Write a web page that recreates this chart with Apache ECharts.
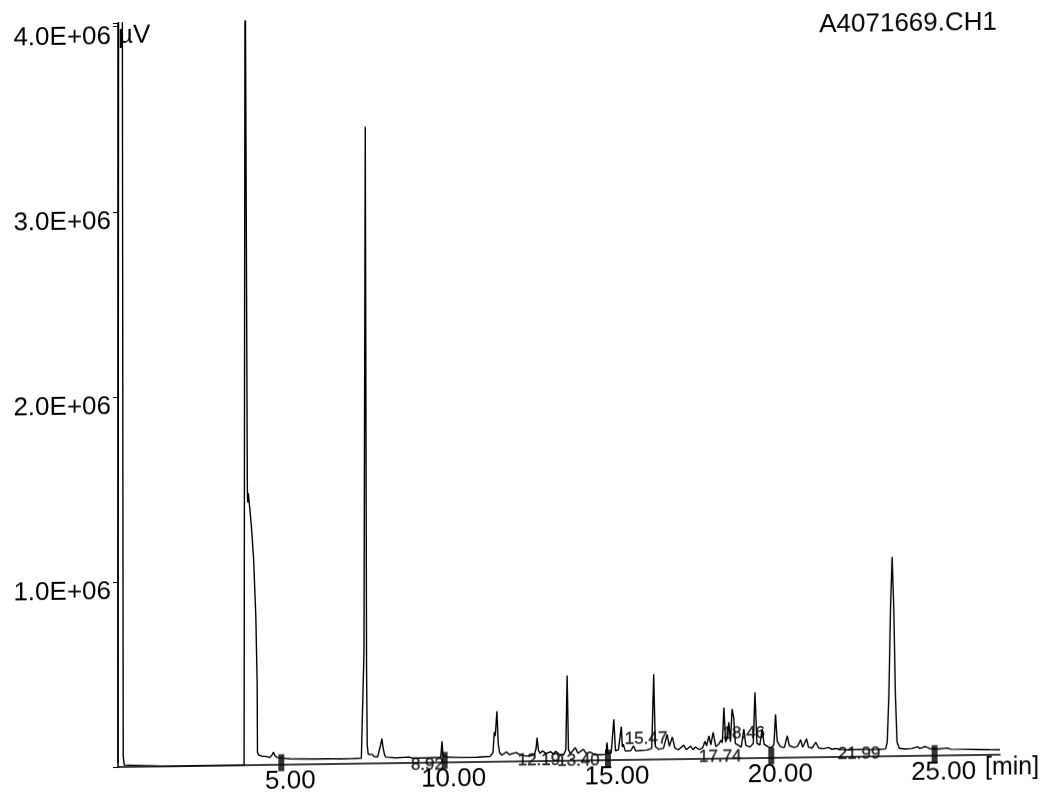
<!DOCTYPE html>
<html><head><meta charset="utf-8">
<script src="https://cdn.jsdelivr.net/npm/echarts@6/dist/echarts.min.js"></script>
<style>
html,body{margin:0;padding:0;background:#fff;}
#chart{width:1044px;height:792px;transform:skewY(-0.8deg);transform-origin:118px 0;}
</style>
</head><body><div id="chart"></div>
<script>
// ---------- data ----------
const retentionTimes = [
  0.00,0.02,0.13,0.16,0.19,0.25,1.50,3.00,3.86,3.89,
  3.94,3.96,3.97,3.99,4.02,4.08,4.15,4.22,4.26,4.27,
  4.30,4.40,4.55,4.65,4.72,4.76,4.80,4.87,5.00,5.28,
  5.60,6.00,6.40,6.80,7.20,7.45,7.50,7.53,7.57,7.61,
  7.63,7.66,7.72,7.78,7.85,7.95,8.00,8.04,8.08,8.11,
  8.13,8.16,8.20,8.50,8.92,9.00,9.50,9.88,9.92,9.95,
  10.10,10.50,11.00,11.40,11.48,11.52,11.55,11.60,11.64,11.68,
  11.75,11.90,11.98,12.19,12.28,12.45,12.60,12.75,12.80,12.83,
  12.87,12.92,13.00,13.10,13.25,13.32,13.40,13.50,13.65,13.71,
  13.75,13.79,13.85,14.00,14.08,14.25,14.33,14.45,14.60,14.80,
  14.94,14.97,15.00,15.10,15.18,15.23,15.32,15.41,15.44,15.47,
  15.53,15.70,15.78,15.85,16.00,16.20,16.34,16.40,16.45,16.55,
  16.70,16.81,16.88,16.97,17.05,17.15,17.32,17.40,17.53,17.60,
  17.68,17.74,17.80,17.90,17.97,18.02,18.09,18.15,18.22,18.30,
  18.40,18.46,18.50,18.55,18.60,18.65,18.70,18.75,18.80,18.85,
  18.90,19.00,19.08,19.16,19.22,19.35,19.45,19.50,19.56,19.65,
  19.72,19.78,19.90,20.00,20.08,20.13,20.18,20.28,20.40,20.49,
  20.55,20.70,20.80,20.90,20.96,21.02,21.08,21.14,21.25,21.36,
  21.45,21.60,21.75,21.85,21.99,22.10,22.40,22.70,23.00,23.30,
  23.50,23.55,23.60,23.65,23.70,23.75,23.80,23.85,23.92,24.10,
  24.30,24.47,24.55,24.72,24.85,25.10,25.39,25.50,25.90,26.30,
  26.70,27.00
];
const detectorSignal = [
  20000,4600000,4600000,60000,10000,0,0,0,0,4600000,
  4600000,1500000,1420000,1470000,1460000,1300000,1120000,800000,445000,70000,
  55000,48000,45000,40000,55000,69000,50000,40000,36000,31000,
  30000,28000,29000,27000,28000,30000,35000,600000,3440000,500000,
  100000,50000,42000,48000,36000,35000,40000,100000,133000,90000,
  80000,45000,33000,28000,32000,26000,26000,28000,115000,35000,
  28000,25000,26000,30000,50000,160000,140000,273000,100000,50000,
  35000,52000,38000,48000,38000,30000,28000,35000,70000,127000,
  60000,42000,55000,40000,50000,38000,52000,35000,34000,60000,
  461000,60000,38000,70000,40000,60000,38000,45000,30000,30000,
  32000,95000,35000,40000,220000,50000,55000,180000,70000,85000,
  48000,50000,75000,48000,50000,52000,60000,460000,70000,55000,
  60000,135000,70000,120000,60000,50000,75000,50000,70000,50000,
  65000,72000,50000,60000,95000,70000,124000,75000,142000,65000,
  80000,100000,85000,276000,90000,110000,195000,90000,267000,220000,
  80000,70000,60000,158000,70000,60000,80000,355000,80000,70000,
  156000,75000,60000,55000,70000,235000,90000,60000,55000,118000,
  65000,55000,60000,95000,55000,60000,100000,55000,50000,80000,
  50000,45000,52000,42000,46000,40000,38000,40000,37000,38000,
  40000,75000,330000,800000,1076000,800000,330000,75000,42000,38000,
  40000,49000,40000,50000,38000,35000,40000,33000,32000,30000,
  28000,27000
];
const peakLabelTimes = [8.92, 12.19, 13.40, 15.47, 17.74, 18.46, 21.99];
const peakLabelTexts = ['8.92', '12.19', '13.40', '15.47', '17.74', '18.46', '21.99'];
const markerTimes = [5, 10, 15, 20, 25];
const xTickValues = [5, 10, 15, 20, 25];
const yTickValues = [1000000, 2000000, 3000000, 4000000];
const fileName = 'A4071669.CH1';
const yUnit = 'µV';
const xUnit = '[min]';

// ---------- layout ----------
const FONT = "'Liberation Sans', Arial, sans-serif";
const labelDy = [2, -1, 0, -21, -2, -25, -3];

const trace = retentionTimes.map((t, i) => [t, detectorSignal[i]]);

const chart = echarts.init(document.getElementById('chart'), null, {renderer: 'canvas'});
chart.setOption({
  animation: false,
  backgroundColor: '#fff',
  grid: {left: 118, right: 44, top: 23, bottom: 25, containLabel: false, outerBoundsMode: 'none'},
  xAxis: {
    type: 'value', min: 0, max: 27, interval: 5,
    axisLine: {show: true, lineStyle: {color: '#000', width: 1.5}},
    axisTick: {show: false},
    splitLine: {show: false},
    axisLabel: {
      margin: 4, fontSize: 26, fontFamily: FONT, color: '#000',
      padding: [0, 0, 0, 18],
      formatter: v => xTickValues.includes(v) ? v.toFixed(2) : ''
    }
  },
  yAxis: {
    type: 'value', min: 0, max: 4020000, interval: 1000000,
    axisLine: {show: true, lineStyle: {color: '#000', width: 1.5}},
    axisTick: {show: true, length: 5, lineStyle: {color: '#000', width: 1}},
    splitLine: {show: false},
    axisLabel: {
      margin: 7, fontSize: 26, fontFamily: FONT, color: '#000',
      verticalAlign: 'top', lineHeight: 20,
      formatter: v => yTickValues.includes(v) ? (v / 1e6).toFixed(1) + 'E+06' : ''
    }
  },
  graphic: [
    {type: 'text', x: 997, y: 35, style: {text: fileName, fill: '#000', font: '26px ' + FONT, align: 'right', verticalAlign: 'middle'}},
    {type: 'text', x: 118, y: 36, style: {text: yUnit, fill: '#000', font: '26px ' + FONT, align: 'left', verticalAlign: 'middle'}},
    {type: 'text', x: 985, y: 780, style: {text: xUnit, fill: '#000', font: '25px ' + FONT, align: 'left', verticalAlign: 'middle'}}
  ],
  series: [
    {
      type: 'line', data: trace, showSymbol: false, symbol: 'none',
      lineStyle: {color: '#000', width: 1.4}, clip: true, z: 3
    },
    {
      type: 'scatter', data: markerTimes.map(t => [t, 0]),
      symbol: 'rect', symbolSize: [6, 17], symbolOffset: [0, -2],
      itemStyle: {color: '#000'}, clip: false, z: 5, silent: true
    },
    {
      type: 'scatter', clip: false, z: 6, silent: true,
      symbolSize: 1, itemStyle: {color: 'rgba(0,0,0,0)'},
      data: peakLabelTimes.map((t, i) => ({value: [t, 0], label: {offset: [0, labelDy[i]]}})),
      label: {
        show: true, position: 'right', distance: 1,
        fontSize: 17, fontFamily: FONT, color: '#000',
        textBorderColor: '#000', textBorderWidth: 0.4,
        formatter: p => peakLabelTexts[p.dataIndex]
      }
    }
  ]
});
</script>
</body></html>
